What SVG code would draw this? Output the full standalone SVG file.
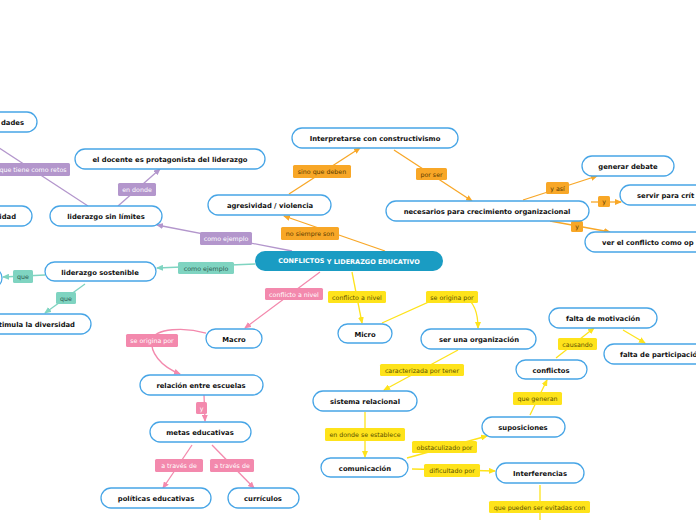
<svg xmlns="http://www.w3.org/2000/svg" width="696" height="520" viewBox="0 0 696 520">
<defs>
<style>
.n rect{fill:#fff;stroke:#47a5e6;stroke-width:1.3}
.n text{font-family:"DejaVu Sans",sans-serif;font-weight:bold;font-size:6.8px;fill:#111;text-anchor:middle}
.c{fill:none;stroke-width:1.3}
.pu{stroke:#b396cc}.te{stroke:#7fd4c1}.or{stroke:#f8a727}.pk{stroke:#f389ad}.ye{stroke:#fee31b}
.lb text{font-family:"DejaVu Sans",sans-serif;font-size:6.3px;text-anchor:middle}
.lpu rect{fill:#b396cc}.lpu text{fill:#fff}
.lte rect{fill:#7fd4c1}.lte text{fill:#2d5a50}
.lor rect{fill:#f8a727}.lor text{fill:#5a3c00}
.lpk rect{fill:#f389ad}.lpk text{fill:#fff}
.lye rect{fill:#fee31b}.lye text{fill:#5a5000}
</style>
<marker id="mpu" markerWidth="7" markerHeight="6" refX="6" refY="3" orient="auto" markerUnits="userSpaceOnUse"><path d="M0,0 L7,3 L0,6 z" fill="#b396cc"/></marker>
<marker id="mte" markerWidth="7" markerHeight="6" refX="6" refY="3" orient="auto" markerUnits="userSpaceOnUse"><path d="M0,0 L7,3 L0,6 z" fill="#7fd4c1"/></marker>
<marker id="mor" markerWidth="7" markerHeight="6" refX="6" refY="3" orient="auto" markerUnits="userSpaceOnUse"><path d="M0,0 L7,3 L0,6 z" fill="#f8a727"/></marker>
<marker id="mpk" markerWidth="7" markerHeight="6" refX="6" refY="3" orient="auto" markerUnits="userSpaceOnUse"><path d="M0,0 L7,3 L0,6 z" fill="#f389ad"/></marker>
<marker id="mye" markerWidth="7" markerHeight="6" refX="6" refY="3" orient="auto" markerUnits="userSpaceOnUse"><path d="M0,0 L7,3 L0,6 z" fill="#fee31b"/></marker>
</defs>
<rect width="696" height="520" fill="#fff"/>
<g id="connectors">
<path class="c pu" d="M292,251 L157,225" marker-end="url(#mpu)"/>
<path class="c pu" d="M118,206 L160,169" marker-end="url(#mpu)"/>
<path class="c pu" d="M88,206 L-10,142"/>
<path class="c te" d="M255,264 L157,268" marker-end="url(#mte)"/>
<path class="c te" d="M45,275 L3,277" marker-end="url(#mte)"/>
<path class="c te" d="M85,284 L45,313" marker-end="url(#mte)"/>
<path class="c or" d="M385,251 L284,216" marker-end="url(#mor)"/>
<path class="c or" d="M289,194 L360,148" marker-end="url(#mor)"/>
<path class="c or" d="M394,150 L472,201" marker-end="url(#mor)"/>
<path class="c or" d="M523,200 L597,176" marker-end="url(#mor)"/>
<path class="c or" d="M591,202 L621,202" marker-end="url(#mor)"/>
<path class="c or" d="M550,221 L610,232" marker-end="url(#mor)"/>
<path class="c pk" d="M320,272 L245,328" marker-end="url(#mpk)"/>
<path class="c pk" d="M206,333 C185,327 155,328 152,340 C150,352 160,366 180,374" marker-end="url(#mpk)"/>
<path class="c pk" d="M204,395 L205,421" marker-end="url(#mpk)"/>
<path class="c pk" d="M192,445 L163,488" marker-end="url(#mpk)"/>
<path class="c pk" d="M212,445 L254,488" marker-end="url(#mpk)"/>
<path class="c ye" d="M352,272 L362,323" marker-end="url(#mye)"/>
<path class="c ye" d="M382,323 L440,297 L465,297 C474,302 478,312 478,328" marker-end="url(#mye)"/>
<path class="c ye" d="M458,350 L384,390" marker-end="url(#mye)"/>
<path class="c ye" d="M365,412 L365,457" marker-end="url(#mye)"/>
<path class="c ye" d="M407,458 L487,436" marker-end="url(#mye)"/>
<path class="c ye" d="M412,469 L495,471" marker-end="url(#mye)"/>
<path class="c ye" d="M530,415 L547,380" marker-end="url(#mye)"/>
<path class="c ye" d="M556,358 L594,328" marker-end="url(#mye)"/>
<path class="c ye" d="M623,330 L645,343" marker-end="url(#mye)"/>
<path class="c ye" d="M540,485 L540,520"/>
<g class="lb lpu">
<rect x="-6" y="163" width="76" height="13" rx="1.5"/><text x="33" y="172">que tiene como retos</text>
<rect x="118" y="183" width="38" height="13" rx="1.5"/><text x="137" y="192">en donde</text>
<rect x="200" y="232" width="52" height="13" rx="1.5"/><text x="226" y="241">como ejemplo</text>
</g>
<g class="lb lte">
<rect x="178" y="262" width="56" height="12" rx="1.5"/><text x="206" y="270.5">como ejemplo</text>
<rect x="13" y="270" width="20" height="13" rx="1.5"/><text x="23" y="279">que</text>
<rect x="56" y="292" width="20" height="12" rx="1.5"/><text x="66" y="300.5">que</text>
</g>
<g class="lb lor">
<rect x="293" y="165" width="58" height="13" rx="1.5"/><text x="322" y="174">sino que deben</text>
<rect x="281" y="227" width="58" height="13" rx="1.5"/><text x="310" y="236">no siempre son</text>
<rect x="416" y="168" width="31" height="12" rx="1.5"/><text x="431.5" y="176.5">por ser</text>
<rect x="546" y="182" width="23" height="12" rx="1.5"/><text x="557.5" y="190.5">y así</text>
<rect x="598" y="196" width="12" height="11" rx="1.5"/><text x="604" y="204">y</text>
<rect x="571" y="221" width="12" height="11" rx="1.5"/><text x="577" y="229">y</text>
</g>
<g class="lb lpk">
<rect x="265" y="288" width="58" height="12" rx="1.5"/><text x="294" y="296.5">conflicto a nivel</text>
<rect x="126" y="334" width="52" height="13" rx="1.5"/><text x="152" y="343">se origina por</text>
<rect x="196" y="402" width="11" height="12" rx="1.5"/><text x="201.5" y="410.5">y</text>
<rect x="155" y="459" width="48" height="13" rx="1.5"/><text x="179" y="468">a través de</text>
<rect x="210" y="459" width="44" height="13" rx="1.5"/><text x="232" y="468">a través de</text>
</g>
<g class="lb lye">
<rect x="328" y="291" width="58" height="12" rx="1.5"/><text x="357" y="299.5">conflicto a nivel</text>
<rect x="426" y="291" width="52" height="12" rx="1.5"/><text x="452" y="299.5">se origina por</text>
<rect x="380" y="364" width="84" height="12" rx="1.5"/><text x="422" y="372.5">caracterizada por tener</text>
<rect x="558" y="338" width="39" height="12" rx="1.5"/><text x="577.5" y="346.5">causando</text>
<rect x="513" y="392" width="49" height="13" rx="1.5"/><text x="537.5" y="401">que generan</text>
<rect x="325" y="428" width="80" height="13" rx="1.5"/><text x="365" y="437">en donde se establece</text>
<rect x="412" y="441" width="65" height="12" rx="1.5"/><text x="444.5" y="449.5">obstaculizado por</text>
<rect x="424" y="464" width="56" height="13" rx="1.5"/><text x="452" y="473">dificultado por</text>
<rect x="489" y="501" width="101" height="12" rx="1.5"/><text x="539.5" y="509.5">que pueden ser evitadas con</text>
</g>
</g>
<g id="central"><rect x="255" y="251" width="188" height="20" rx="10" fill="#1a9cc3"/><text x="349" y="264" font-family="DejaVu Sans,sans-serif" font-weight="bold" font-size="6.5" fill="#fff" text-anchor="middle"><tspan dy="-0.8">CONFLICTOS</tspan><tspan dy="0.8"> Y LIDERAZGO EDUCATIVO</tspan></text></g>
<g id="n-dades" class="n"><rect x="-60" y="112" width="97" height="20" rx="10"/><text x="1" y="125" style="text-anchor:start">dades</text></g>
<g id="n-docente" class="n"><rect x="75" y="149" width="190" height="20" rx="10"/><text x="170" y="162">el docente es protagonista del liderazgo</text></g>
<g id="n-idad" class="n"><rect x="-60" y="206" width="92" height="20" rx="10"/><text x="16" y="219" style="text-anchor:end">idad</text></g>
<g id="n-sinlimites" class="n"><rect x="50" y="206" width="112" height="20" rx="10"/><text x="106" y="219">liderazgo sin límites</text></g>
<g id="n-agresividad" class="n"><rect x="208" y="195" width="123" height="20" rx="10"/><text x="270" y="208">agresividad / violencia</text></g>
<g id="n-interpretarse" class="n"><rect x="292" y="128" width="166" height="20" rx="10"/><text x="375" y="141">Interpretarse con constructivismo</text></g>
<g id="n-necesarios" class="n"><rect x="386" y="201" width="203" height="20" rx="10"/><text x="487" y="214">necesarios para crecimiento organizacional</text></g>
<g id="n-debate" class="n"><rect x="582" y="156" width="92" height="20" rx="10"/><text x="628" y="169">generar debate</text></g>
<g id="n-servir" class="n"><rect x="620" y="185" width="100" height="20" rx="10"/><text x="637" y="198" style="text-anchor:start">servir para crít</text></g>
<g id="n-ver" class="n"><rect x="585" y="232" width="130" height="20" rx="10"/><text x="602" y="245" style="text-anchor:start">ver el conflicto como op</text></g>
<g id="n-sostenible" class="n"><rect x="45" y="262" width="111" height="19" rx="9.5"/><text x="100" y="274.5">liderazgo sostenible</text></g>
<g id="n-left" class="n"><rect x="-60" y="268" width="62" height="20" rx="10"/></g>
<g id="n-diversidad" class="n"><rect x="-60" y="314" width="151" height="20" rx="10"/><text x="75" y="327" style="text-anchor:end">timula la diversidad</text></g>
<g id="n-macro" class="n"><rect x="206" y="329" width="56" height="19" rx="9.5"/><text x="234" y="341.5">Macro</text></g>
<g id="n-micro" class="n"><rect x="338" y="324" width="54" height="19" rx="9.5"/><text x="365" y="336.5">Micro</text></g>
<g id="n-organizacion" class="n"><rect x="421" y="329" width="115" height="20" rx="10"/><text x="479" y="342">ser una organización</text></g>
<g id="n-motivacion" class="n"><rect x="549" y="308" width="108" height="20" rx="10"/><text x="603" y="321">falta de motivación</text></g>
<g id="n-participacion" class="n"><rect x="604" y="344" width="110" height="20" rx="10"/><text x="620" y="357" style="text-anchor:start">falta de participació</text></g>
<g id="n-conflictos" class="n"><rect x="516" y="360" width="71" height="19" rx="9.5"/><text x="551" y="372.5">conflictos</text></g>
<g id="n-relacion" class="n"><rect x="140" y="375" width="123" height="20" rx="10"/><text x="201" y="388">relación entre escuelas</text></g>
<g id="n-sistema" class="n"><rect x="313" y="391" width="104" height="20" rx="10"/><text x="365" y="404">sistema relacional</text></g>
<g id="n-suposiciones" class="n"><rect x="482" y="417" width="83" height="20" rx="10"/><text x="523" y="430">suposiciones</text></g>
<g id="n-metas" class="n"><rect x="150" y="422" width="101" height="20" rx="10"/><text x="200" y="435">metas educativas</text></g>
<g id="n-comunicacion" class="n"><rect x="321" y="458" width="87" height="19" rx="9.5"/><text x="365" y="470.5">comunicación</text></g>
<g id="n-interferencias" class="n"><rect x="496" y="463" width="88" height="20" rx="10"/><text x="540" y="476">Interferencias</text></g>
<g id="n-politicas" class="n"><rect x="101" y="488" width="110" height="20" rx="10"/><text x="156" y="501">políticas educativas</text></g>
<g id="n-curriculos" class="n"><rect x="228" y="488" width="71" height="20" rx="10"/><text x="263" y="501">currículos</text></g>
</svg>
